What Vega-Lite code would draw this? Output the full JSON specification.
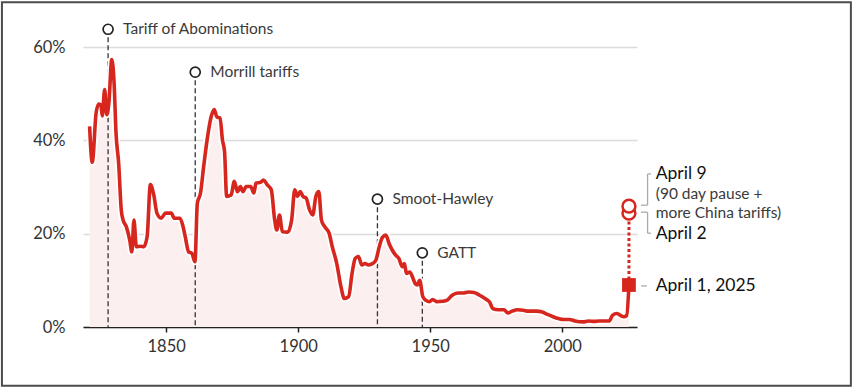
{
  "$schema": "https://vega.github.io/schema/vega-lite/v6.json",
  "width": 554,
  "height": 280,
  "autosize": {"type": "none"},
  "padding": {"left": 83, "top": 47, "right": 216, "bottom": 61},
  "background": "white",
  "config": {
    "view": {"stroke": null},
    "font": "Lato",
    "axis": {"title": null},
    "axisX": {"domainColor": "#222", "domainWidth": 1.6, "tickColor": "#222", "tickWidth": 1.5, "tickSize": 5, "labelFontSize": 16.5, "labelColor": "#333", "labelPadding": 6, "grid": false, "zindex": 1},
    "axisY": {"domain": false, "ticks": false, "labelFontSize": 16.5, "labelColor": "#333", "labelPadding": 18, "gridColor": "#dcdcdc", "gridWidth": 1.5}
  },
  "datasets": {
    "tariff": [
      {"year": 1821.0, "rate": 43.0}, {"year": 1822.0, "rate": 35.3}, {"year": 1823.5, "rate": 46.0},
      {"year": 1824.5, "rate": 47.8}, {"year": 1825.3, "rate": 47.5}, {"year": 1825.8, "rate": 45.2},
      {"year": 1826.7, "rate": 50.9}, {"year": 1827.5, "rate": 45.5}, {"year": 1828.3, "rate": 48.0},
      {"year": 1829.4, "rate": 57.3}, {"year": 1830.3, "rate": 52.0}, {"year": 1831.0, "rate": 41.6},
      {"year": 1832.0, "rate": 35.1}, {"year": 1833.0, "rate": 25.0}, {"year": 1833.7, "rate": 22.9},
      {"year": 1834.9, "rate": 21.5}, {"year": 1836.2, "rate": 18.6}, {"year": 1837.0, "rate": 16.1},
      {"year": 1837.8, "rate": 22.9}, {"year": 1838.7, "rate": 17.2}, {"year": 1840.3, "rate": 17.3},
      {"year": 1841.5, "rate": 17.2}, {"year": 1842.8, "rate": 19.4}, {"year": 1844.0, "rate": 30.5},
      {"year": 1845.3, "rate": 28.3}, {"year": 1846.5, "rate": 24.4}, {"year": 1848.1, "rate": 23.3},
      {"year": 1849.8, "rate": 24.4}, {"year": 1851.9, "rate": 24.4}, {"year": 1853.1, "rate": 23.3},
      {"year": 1855.2, "rate": 23.3}, {"year": 1856.4, "rate": 21.5}, {"year": 1857.2, "rate": 19.4},
      {"year": 1858.5, "rate": 16.1}, {"year": 1859.7, "rate": 15.8}, {"year": 1860.9, "rate": 14.0},
      {"year": 1861.8, "rate": 26.5}, {"year": 1863.0, "rate": 28.7}, {"year": 1864.2, "rate": 34.4},
      {"year": 1865.5, "rate": 40.1}, {"year": 1867.1, "rate": 45.2}, {"year": 1868.2, "rate": 46.6},
      {"year": 1869.2, "rate": 45.0}, {"year": 1870.4, "rate": 44.8}, {"year": 1871.3, "rate": 40.1},
      {"year": 1872.1, "rate": 37.6}, {"year": 1872.9, "rate": 28.0}, {"year": 1874.6, "rate": 28.3},
      {"year": 1875.8, "rate": 31.2}, {"year": 1877.0, "rate": 29.0}, {"year": 1878.1, "rate": 30.1},
      {"year": 1879.1, "rate": 29.0}, {"year": 1880.3, "rate": 30.1}, {"year": 1882.0, "rate": 30.1},
      {"year": 1883.2, "rate": 28.7}, {"year": 1884.0, "rate": 30.8}, {"year": 1885.7, "rate": 31.0},
      {"year": 1886.9, "rate": 31.5}, {"year": 1888.2, "rate": 30.5}, {"year": 1889.8, "rate": 29.4},
      {"year": 1891.1, "rate": 22.9}, {"year": 1891.9, "rate": 20.8}, {"year": 1892.9, "rate": 24.0},
      {"year": 1894.0, "rate": 20.4}, {"year": 1896.0, "rate": 20.3}, {"year": 1897.5, "rate": 22.9},
      {"year": 1898.7, "rate": 29.4}, {"year": 1899.7, "rate": 28.0}, {"year": 1900.8, "rate": 29.0},
      {"year": 1901.8, "rate": 28.0}, {"year": 1903.0, "rate": 27.6}, {"year": 1904.3, "rate": 25.1},
      {"year": 1905.5, "rate": 24.0}, {"year": 1906.7, "rate": 28.0}, {"year": 1907.8, "rate": 29.0},
      {"year": 1908.8, "rate": 22.9}, {"year": 1910.0, "rate": 21.5}, {"year": 1911.7, "rate": 20.1},
      {"year": 1912.9, "rate": 17.2}, {"year": 1914.6, "rate": 13.6}, {"year": 1916.2, "rate": 8.6},
      {"year": 1917.5, "rate": 6.1}, {"year": 1919.1, "rate": 6.5}, {"year": 1920.4, "rate": 11.5},
      {"year": 1921.6, "rate": 14.7}, {"year": 1922.8, "rate": 15.1}, {"year": 1924.1, "rate": 13.3},
      {"year": 1925.3, "rate": 13.6}, {"year": 1926.6, "rate": 13.3}, {"year": 1928.2, "rate": 13.6},
      {"year": 1929.4, "rate": 14.3}, {"year": 1930.7, "rate": 17.2}, {"year": 1931.9, "rate": 19.2},
      {"year": 1933.2, "rate": 19.7}, {"year": 1934.4, "rate": 17.9}, {"year": 1935.6, "rate": 16.5},
      {"year": 1936.9, "rate": 15.4}, {"year": 1938.1, "rate": 14.7}, {"year": 1939.4, "rate": 12.9},
      {"year": 1940.2, "rate": 13.6}, {"year": 1941.0, "rate": 11.5}, {"year": 1942.2, "rate": 11.8},
      {"year": 1943.5, "rate": 10.4}, {"year": 1944.3, "rate": 9.3}, {"year": 1945.1, "rate": 9.0},
      {"year": 1946.0, "rate": 10.0}, {"year": 1947.2, "rate": 6.5}, {"year": 1948.4, "rate": 5.7},
      {"year": 1949.7, "rate": 5.4}, {"year": 1950.9, "rate": 5.9}, {"year": 1952.6, "rate": 5.4},
      {"year": 1954.6, "rate": 5.5}, {"year": 1956.3, "rate": 5.7}, {"year": 1958.3, "rate": 6.8},
      {"year": 1960.4, "rate": 7.3}, {"year": 1962.5, "rate": 7.3}, {"year": 1964.5, "rate": 7.5},
      {"year": 1966.6, "rate": 7.4}, {"year": 1968.7, "rate": 6.8}, {"year": 1970.7, "rate": 6.1},
      {"year": 1972.4, "rate": 5.4}, {"year": 1973.8, "rate": 3.9}, {"year": 1975.9, "rate": 3.7},
      {"year": 1977.9, "rate": 3.7}, {"year": 1979.4, "rate": 3.0}, {"year": 1981.0, "rate": 3.4},
      {"year": 1983.1, "rate": 3.7}, {"year": 1985.2, "rate": 3.6}, {"year": 1987.2, "rate": 3.4},
      {"year": 1990.3, "rate": 3.4}, {"year": 1992.4, "rate": 3.2}, {"year": 1994.4, "rate": 2.7},
      {"year": 1996.5, "rate": 2.2}, {"year": 1998.6, "rate": 1.8}, {"year": 2000.6, "rate": 1.6},
      {"year": 2002.7, "rate": 1.6}, {"year": 2004.8, "rate": 1.3}, {"year": 2007.9, "rate": 1.1},
      {"year": 2009.9, "rate": 1.3}, {"year": 2012.0, "rate": 1.2}, {"year": 2014.0, "rate": 1.3},
      {"year": 2016.5, "rate": 1.3}, {"year": 2017.8, "rate": 1.3}, {"year": 2019.0, "rate": 2.5},
      {"year": 2020.7, "rate": 2.9}, {"year": 2022.3, "rate": 2.4}, {"year": 2023.3, "rate": 2.2},
      {"year": 2024.4, "rate": 2.5}, {"year": 2025.25, "rate": 9.0}
    ],
    "events": [
      {"event": "Tariff of Abominations", "year": 1828, "mark": 63.8, "base": 0},
      {"event": "Morrill tariffs", "year": 1861, "mark": 54.6, "base": 0},
      {"event": "Smoot-Hawley", "year": 1930, "mark": 27.4, "base": 0},
      {"event": "GATT", "year": 1947, "mark": 15.9, "base": 0}
    ],
    "april": [
      {"label": "April 2", "year": 2025.25, "rate": 24.4},
      {"label": "April 9", "year": 2025.25, "rate": 25.9}
    ],
    "apr1": [
      {"label": "April 1, 2025", "year": 2025.25, "rate": 9.0, "top": 24.4}
    ],
    "brackets": [
      {"x": 2032.3, "x2": 2032.3, "y": 32.8, "y2": 26.1},
      {"x": 2032.3, "x2": 2033.6, "y": 32.8, "y2": 32.8},
      {"x": 2029.8, "x2": 2032.3, "y": 26.1, "y2": 26.1},
      {"x": 2032.3, "x2": 2032.3, "y": 24.6, "y2": 20.1},
      {"x": 2029.8, "x2": 2032.3, "y": 24.6, "y2": 24.6},
      {"x": 2032.3, "x2": 2033.6, "y": 20.1, "y2": 20.1},
      {"x": 2029.9, "x2": 2032.0, "y": 8.8, "y2": 8.8}
    ],
    "heads": [
      {"text": "April 9", "year": 2035.4, "y": 32.75},
      {"text": "April 2", "year": 2035.4, "y": 20.0},
      {"text": "April 1, 2025", "year": 2035.4, "y": 8.8}
    ],
    "subs": [
      {"text": ["(90 day pause +", "more China tariffs)"], "year": 2035.4, "y": 28.4}
    ],
    "frame": [
      {"x": 1787.8, "x2": 2109.3, "y": 69.6, "y2": -12.6}
    ]
  },
  "layer": [
    {
      "data": {"name": "frame"},
      "mark": {"type": "rect", "fill": "transparent", "stroke": "#4d4d4d", "strokeWidth": 2},
      "encoding": {
        "x": {"field": "x", "type": "quantitative", "scale": {"domain": [1818.5, 2028.3], "nice": false, "zero": false}, "axis": {"values": [1850, 1900, 1950, 2000], "format": "d"}},
        "x2": {"field": "x2"},
        "y": {"field": "y", "type": "quantitative", "scale": {"domain": [0, 60], "nice": false}, "axis": {"values": [0, 20, 40, 60], "labelExpr": "datum.value + '%'"}},
        "y2": {"field": "y2"}
      }
    },
    {
      "data": {"name": "tariff"},
      "mark": {"type": "area", "color": "#fcefef", "interpolate": "monotone"},
      "encoding": {
        "x": {"field": "year", "type": "quantitative"},
        "y": {"field": "rate", "type": "quantitative"}
      }
    },
    {
      "data": {"name": "events"},
      "mark": {"type": "rule", "color": "#333", "strokeWidth": 1.3, "strokeDash": [5, 3]},
      "encoding": {
        "x": {"field": "year", "type": "quantitative"},
        "y": {"field": "mark", "type": "quantitative"},
        "y2": {"field": "base"}
      }
    },
    {
      "data": {"name": "tariff"},
      "mark": {"type": "line", "color": "white", "strokeWidth": 7, "interpolate": "monotone", "strokeJoin": "round"},
      "encoding": {
        "x": {"field": "year", "type": "quantitative"},
        "y": {"field": "rate", "type": "quantitative"}
      }
    },
    {
      "data": {"name": "tariff"},
      "mark": {"type": "line", "color": "#d7261e", "strokeWidth": 3.6, "interpolate": "monotone", "strokeJoin": "round"},
      "encoding": {
        "x": {"field": "year", "type": "quantitative"},
        "y": {"field": "rate", "type": "quantitative"}
      }
    },
    {
      "data": {"name": "apr1"},
      "mark": {"type": "rule", "color": "#d7261e", "strokeWidth": 3, "strokeDash": [3, 2.5]},
      "encoding": {
        "x": {"field": "year", "type": "quantitative"},
        "y": {"field": "rate", "type": "quantitative"},
        "y2": {"field": "top"}
      }
    },
    {
      "data": {"name": "apr1"},
      "mark": {"type": "point", "shape": "square", "filled": true, "color": "#d7261e", "size": 190, "opacity": 1},
      "encoding": {
        "x": {"field": "year", "type": "quantitative"},
        "y": {"field": "rate", "type": "quantitative"}
      }
    },
    {
      "data": {"name": "april"},
      "mark": {"type": "point", "shape": "circle", "filled": false, "fill": "white", "fillOpacity": 1, "stroke": "#d7261e", "strokeWidth": 2.5, "size": 165, "opacity": 1},
      "encoding": {
        "x": {"field": "year", "type": "quantitative"},
        "y": {"field": "rate", "type": "quantitative"}
      }
    },
    {
      "data": {"name": "events"},
      "mark": {"type": "point", "shape": "circle", "filled": false, "fill": "white", "fillOpacity": 1, "stroke": "#222", "strokeWidth": 1.7, "size": 100, "opacity": 1},
      "encoding": {
        "x": {"field": "year", "type": "quantitative"},
        "y": {"field": "mark", "type": "quantitative"}
      }
    },
    {
      "data": {"name": "events"},
      "mark": {"type": "text", "align": "left", "baseline": "middle", "dx": 15, "fontSize": 15.5, "color": "#3a3a3a"},
      "encoding": {
        "x": {"field": "year", "type": "quantitative"},
        "y": {"field": "mark", "type": "quantitative"},
        "text": {"field": "event"}
      }
    },
    {
      "data": {"name": "brackets"},
      "mark": {"type": "rule", "color": "#aaaaaa", "strokeWidth": 1.3},
      "encoding": {
        "x": {"field": "x", "type": "quantitative"},
        "x2": {"field": "x2"},
        "y": {"field": "y", "type": "quantitative"},
        "y2": {"field": "y2"}
      }
    },
    {
      "data": {"name": "heads"},
      "mark": {"type": "text", "align": "left", "baseline": "middle", "fontSize": 17.5, "color": "#111111"},
      "encoding": {
        "x": {"field": "year", "type": "quantitative"},
        "y": {"field": "y", "type": "quantitative"},
        "text": {"field": "text"}
      }
    },
    {
      "data": {"name": "subs"},
      "mark": {"type": "text", "align": "left", "baseline": "middle", "fontSize": 15.5, "lineHeight": 18.5, "color": "#3a3a3a"},
      "encoding": {
        "x": {"field": "year", "type": "quantitative"},
        "y": {"field": "y", "type": "quantitative"},
        "text": {"field": "text"}
      }
    }
  ]
}
